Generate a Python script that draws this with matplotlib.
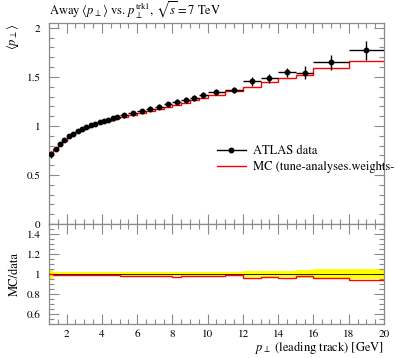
import matplotlib
matplotlib.use('Agg')
import matplotlib.pyplot as plt
import numpy as np
from matplotlib.ticker import MultipleLocator, FixedLocator
from matplotlib.lines import Line2D

plt.rcParams['font.family'] = 'STIXGeneral'
plt.rcParams['mathtext.fontset'] = 'stix'

# bin edges in leading track pT [GeV]
edges = [1.0, 1.25, 1.5, 1.75, 2.0, 2.25, 2.5, 2.75, 3.0, 3.25, 3.5, 3.75, 4.0,
         4.25, 4.5, 4.75, 5.0, 5.5, 6.0, 6.5, 7.0, 7.5, 8.0, 8.5, 9.0, 9.5, 10.0,
         11.0, 12.0, 13.0, 14.0, 15.0, 16.0, 18.0, 20.0]

# ATLAS data <pT> and its uncertainty
data = [0.711, 0.768, 0.812, 0.858, 0.893, 0.921, 0.950, 0.970, 0.990, 1.008,
        1.023, 1.039, 1.053, 1.064, 1.076, 1.088, 1.110, 1.130, 1.150, 1.175,
        1.195, 1.221, 1.249, 1.262, 1.286, 1.315, 1.343, 1.370, 1.455, 1.487,
        1.548, 1.543, 1.648, 1.770]
err = [0.035, 0.016, 0.016, 0.017, 0.018, 0.018, 0.019, 0.019, 0.020, 0.020,
       0.020, 0.021, 0.021, 0.021, 0.022, 0.022, 0.024, 0.024, 0.025, 0.026,
       0.026, 0.027, 0.028, 0.030, 0.030, 0.030, 0.031, 0.032, 0.045, 0.047,
       0.048, 0.068, 0.075, 0.095]

# MC prediction
mc = [0.710, 0.762, 0.805, 0.850, 0.884, 0.912, 0.940, 0.960, 0.980, 0.998,
      1.013, 1.029, 1.043, 1.053, 1.065, 1.077, 1.088, 1.108, 1.127, 1.152,
      1.171, 1.197, 1.215, 1.237, 1.260, 1.290, 1.320, 1.358, 1.400, 1.447,
      1.488, 1.518, 1.590, 1.665]

edges = np.array(edges)
data = np.array(data)
err = np.array(err)
mc = np.array(mc)
centers = 0.5 * (edges[1:] + edges[:-1])
halfw = 0.5 * (edges[1:] - edges[:-1])

fig = plt.figure(figsize=(3.97, 3.58), dpi=100)
ax = fig.add_axes([0.1234, 0.3743, 0.8438, 0.5615])
rax = fig.add_axes([0.1234, 0.095, 0.8438, 0.2793])

tick_grey = '#8a8a8a'

# main panel
ax.stairs(mc, edges, baseline=None, color='red', lw=1.0, zorder=2)
ax.errorbar(centers, data, xerr=halfw, yerr=err, fmt='o', color='black',
            ms=3.2, lw=1.0, capsize=0, zorder=3)
ax.set_xlim(1, 20)
ax.set_ylim(0, 2.05)
ax.yaxis.set_major_locator(FixedLocator([0, 0.5, 1, 1.5, 2]))
ax.yaxis.set_major_formatter(plt.FuncFormatter(lambda v, p: f'{v:g}'))
ax.yaxis.set_minor_locator(MultipleLocator(0.1))
ax.xaxis.set_major_locator(MultipleLocator(2))
ax.xaxis.set_minor_locator(MultipleLocator(0.5))
ax.tick_params(labelbottom=False)
ax.set_ylabel(r'$\langle p_\perp \rangle$', loc='top', fontsize=9, labelpad=4)
ax.set_title(r'Away $\langle p_\perp \rangle$ vs. $p_\perp^{\rm trk1}$, $\sqrt{s} = 7$ TeV',
             loc='left', fontsize=9, pad=6)

handles = [Line2D([], [], color='black', marker='o', ms=3.2, lw=1.0),
           Line2D([], [], color='red', lw=1.0)]
ax.legend(handles, ['ATLAS data', 'MC (tune-analyses.weights-'],
          loc='upper left', bbox_to_anchor=(0.5015, 0.39), frameon=False,
          fontsize=9, borderpad=0, borderaxespad=0, handlelength=2.3,
          handletextpad=0.6, labelspacing=0.3)

# ratio panel
rel = err / data
rax.stairs(1 + rel, edges, baseline=1 - rel, fill=True, color='#ffff00', lw=0, zorder=1)
rax.hlines(1, 1, 20, color='black', lw=0.6, zorder=2)
rax.stairs(mc / data, edges, baseline=None, color='red', lw=1.0, zorder=3)
rax.set_xlim(1, 20)
rax.set_ylim(0.5, 1.5)
rax.yaxis.set_major_locator(FixedLocator([0.6, 0.8, 1.0, 1.2, 1.4]))
rax.yaxis.set_major_formatter(plt.FuncFormatter(lambda v, p: f'{v:g}'))
rax.yaxis.set_minor_locator(MultipleLocator(0.05))
rax.xaxis.set_major_locator(MultipleLocator(2))
rax.xaxis.set_minor_locator(MultipleLocator(0.5))
rax.set_xticks([2, 4, 6, 8, 10, 12, 14, 16, 18, 20])
rax.set_ylabel('MC/data', fontsize=9, labelpad=4)
rax.set_xlabel(r'$p_\perp$ (leading track) [GeV]', loc='right', fontsize=9, labelpad=0)

for a in (ax, rax):
    a.tick_params(which='both', direction='in', top=True, right=True,
                  color=tick_grey, labelsize=8, labelcolor='black')
    a.tick_params(which='major', length=7, width=0.8)
    a.tick_params(which='minor', length=3.6, width=0.8)
    a.tick_params(axis='x', pad=4)
    a.tick_params(axis='y', pad=6)
    for s in a.spines.values():
        s.set_color(tick_grey)
        s.set_linewidth(0.9)

fig.savefig('out.png', dpi=100)
